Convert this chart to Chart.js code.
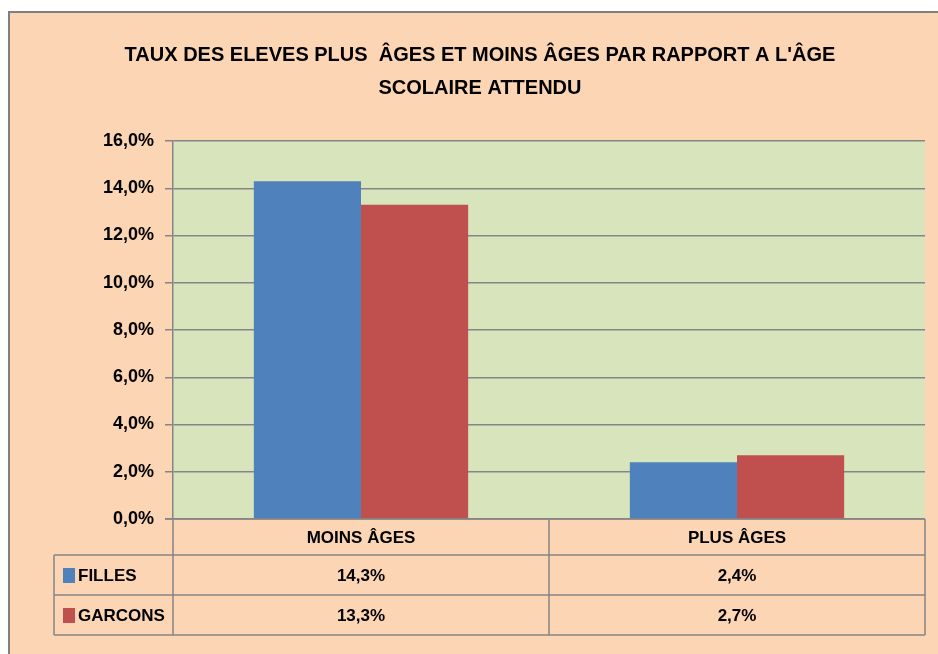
<!DOCTYPE html>
<html>
<head>
<meta charset="utf-8">
<script src="https://cdn.jsdelivr.net/npm/chart.js@4"></script>
<style>
  html, body { margin: 0; padding: 0; background: #ffffff; }
  #cadre {
    position: absolute; left: 8px; top: 11px;
    width: 928px; height: 641px;
    border-top: 2px solid #7f7f7f; border-left: 2px solid #7f7f7f;
    background: #fcd5b4;
  }
  canvas { display: block; }
</style>
</head>
<body>
<div id="cadre"><canvas id="myChart" width="928" height="641"></canvas></div>
<script>
    // données du graphique
    let categories = ['MOINS ÂGES', 'PLUS ÂGES'];
    let filles = [14.3, 2.4];
    let garcons = [13.3, 2.7];
    let series = ['FILLES', 'GARCONS'];
    let titre = ["TAUX DES ELEVES PLUS  ÂGES ET MOINS ÂGES PAR RAPPORT A L'ÂGE", 'SCOLAIRE ATTENDU'];

    let bleu = '#4f81bd';
    let rouge = '#c0504d';
    let gris = '#858585';
    let police = "'Liberation Sans', Arial, sans-serif";

    function pct (v) {
        return v.toFixed(1).replace('.', ',') + '%';
    }

    // fond vert de la zone de tracé
    let fondPlot = {
        id : 'fondPlot',
        beforeDraw (chart) {
            let a = chart.chartArea;
            let c = chart.ctx;
            c.save();
            c.fillStyle = '#d8e4bc';
            c.fillRect(a.left, a.top, a.right - a.left, a.bottom - a.top);
            c.restore();
        }
    };

    // table de données sous l'axe
    let tableDonnees = {
        id : 'tableDonnees',
        afterDraw (chart) {
            let a = chart.chartArea;
            let c = chart.ctx;
            let xs = chart.scales.x;
            let gauche = 44;
            let h0 = a.bottom, h1 = a.bottom + 36, h2 = h1 + 40, h3 = h2 + 40;
            let bornes = [a.left];
            for (let i = 1; i < categories.length; i++) {
                bornes.push((xs.getPixelForValue(i - 1) + xs.getPixelForValue(i)) / 2);
            }
            bornes.push(a.right);

            c.save();
            c.strokeStyle = gris;
            c.lineWidth = 1.5;
            c.beginPath();
            // lignes horizontales
            c.moveTo(a.left - 8, h0); c.lineTo(a.right, h0);
            [h1, h2, h3].forEach(y => { c.moveTo(gauche, y); c.lineTo(a.right, y); });
            // lignes verticales
            bornes.forEach(x => { c.moveTo(x, h0); c.lineTo(x, h3); });
            c.moveTo(gauche, h1); c.lineTo(gauche, h3);
            c.stroke();

            c.fillStyle = '#000';
            c.font = 'bold 17px ' + police;
            c.textAlign = 'center';
            c.textBaseline = 'middle';
            let lignes = [filles, garcons];
            categories.forEach((cat, i) => {
                let cx = (bornes[i] + bornes[i + 1]) / 2;
                c.fillText(cat, cx, (h0 + h1) / 2 + 1);
                c.fillText(pct(lignes[0][i]), cx, (h1 + h2) / 2 + 1);
                c.fillText(pct(lignes[1][i]), cx, (h2 + h3) / 2 + 1);
            });

            // légende dans la table
            let couleurs = [bleu, rouge];
            let ys = [(h1 + h2) / 2, (h2 + h3) / 2];
            series.forEach((s, i) => {
                c.fillStyle = couleurs[i];
                c.fillRect(gauche + 9, ys[i] - 7, 12, 15);
                c.fillStyle = '#000';
                c.textAlign = 'left';
                c.fillText(s, gauche + 24, ys[i] + 1);
            });
            c.restore();
        }
    };

    let ctx = document.getElementById('myChart');

    let config = {
        type : 'bar',
        data : {
            labels : categories,
            datasets : [
                { label : series[0], data : filles, backgroundColor : bleu },
                { label : series[1], data : garcons, backgroundColor : rouge }
            ]
        },
        options : {
            responsive : false,
            animation : false,
            layout : { padding : { left : 25, right : 13, top : 0, bottom : 127 } },
            datasets : { bar : { categoryPercentage : 0.57, barPercentage : 1 } },
            plugins : {
                legend : { display : false },
                tooltip : { enabled : false },
                title : {
                    display : true,
                    text : titre,
                    color : '#000',
                    font : { family : police, size : 20, weight : 'bold', lineHeight : 1.65 },
                    padding : { top : 26, bottom : 36 }
                }
            },
            scales : {
                x : {
                    ticks : { display : false },
                    grid : { display : false },
                    border : { display : false }
                },
                y : {
                    min : 0,
                    max : 16,
                    afterFit (scale) { scale.width = 138; },
                    ticks : {
                        stepSize : 2,
                        padding : 11,
                        color : '#000',
                        font : { family : police, size : 18, weight : 'bold' },
                        callback : v => pct(v)
                    },
                    grid : { color : gris, lineWidth : 1.5, tickLength : 8 },
                    border : { color : gris, width : 1.5 }
                }
            }
        },
        plugins : [fondPlot, tableDonnees]
    };

    let myChart = new Chart(ctx, config);
</script>
</body>
</html>
